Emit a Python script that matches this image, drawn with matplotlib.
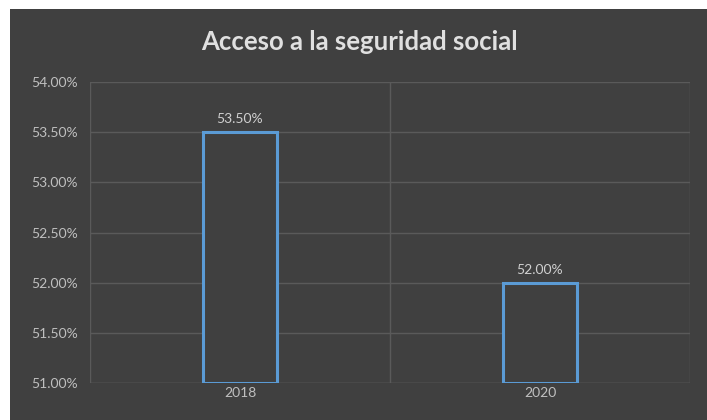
import matplotlib.pyplot as plt
from matplotlib.patches import Rectangle

years = ['2018', '2020']
values = [53.50, 52.00]
y_ticks = [51.0, 51.5, 52.0, 52.5, 53.0, 53.5, 54.0]

bg = '#404040'
grid = '#5a5a5a'
txt = '#bfbfbf'
blue = '#5b9bd5'

plt.rcParams['font.family'] = ['Lato', 'DejaVu Sans']

fig = plt.figure(figsize=(7.07, 4.2), dpi=100)
fig.patch.set_facecolor('white')
# dark chart area (white strip left/top like the screenshot crop)
fig.patches.append(Rectangle((10 / 707, 0), 1, 1 - 9 / 420, transform=fig.transFigure,
                             facecolor=bg, edgecolor='none', zorder=-10))

ax = fig.add_axes([90 / 707, 1 - 383 / 420, 600 / 707, (383 - 82) / 420])
ax.set_facecolor(bg)

x = range(len(years))
bars = ax.bar(x, [v - 51.0 for v in values], bottom=51.0, width=0.245,
              facecolor=bg, edgecolor=blue, linewidth=2.2, zorder=3)

for xi, v in zip(x, values):
    ax.text(xi, v + 0.07, f'{v:.2f}%', ha='center', va='bottom', color='#d0d0d0', fontsize=10)

ax.set_xlim(-0.5, 1.5)
ax.set_ylim(51.0, 54.0)
ax.set_yticks(y_ticks)
ax.set_yticklabels([f'{t:.2f}%' for t in y_ticks])
ax.set_xticks(list(x))
ax.set_xticklabels(years)
ax.tick_params(axis='both', colors=txt, labelsize=10, length=0)
ax.tick_params(axis='y', pad=9)
ax.tick_params(axis='x', pad=3)

ax.grid(axis='y', color=grid, linewidth=1, zorder=0)
ax.set_axisbelow(True)
# category boundaries
for b in [-0.5, 0.5, 1.5]:
    ax.axvline(b, color=grid, linewidth=1, zorder=0)
for s in ax.spines.values():
    s.set_visible(False)
ax.axhline(51.0, color=grid, linewidth=1, zorder=1)

fig.text(359 / 707, 1 - 42 / 420, 'Acceso a la seguridad social', ha='center', va='center',
         color='#e0e0e0', fontsize=18.5, fontweight='bold')

fig.savefig('out.png', dpi=100, facecolor=fig.get_facecolor())
